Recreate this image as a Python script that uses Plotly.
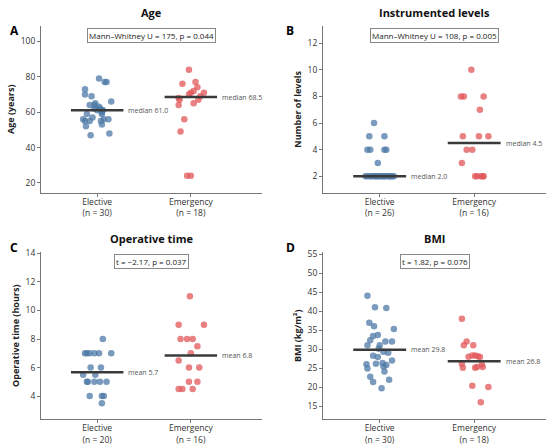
import numpy as np
import plotly.graph_objects as go
from plotly.subplots import make_subplots

groups = ['Elective', 'Emergency']

# A - age
age_elective = [79, 77, 77, 73, 70, 69, 66, 65, 64, 64, 63, 62, 62, 61, 61,
                61, 60, 59, 59, 57, 56, 56, 56, 55, 55, 55, 53, 52, 48, 47]
age_elective_jit = [0.02, 0.08, 0.10, -0.13, -0.13, -0.06, 0.15, -0.02, -0.03, -0.08, 0.02, -0.03, 0.03, 0.05, 0.0,
                    0.06, 0.05, -0.11, 0.05, -0.05, -0.15, 0.07, 0.12, -0.13, -0.08, 0.04, 0.05, -0.12, 0.13, -0.07]
age_emergency = [84, 76, 77, 74, 72, 71, 70, 71, 69, 68, 67, 67, 65, 64, 56, 49, 24, 24]
age_emergency_jit = [-0.02, -0.09, 0.05, 0.07, 0.03, 0.0, -0.02, 0.14, 0.10, -0.13, -0.12, 0.08, 0.03, -0.13, -0.07, -0.11, -0.04, 0.0]

# B - instrumented levels
lev_elective = [6, 5, 5, 4, 4, 4, 4, 3] + [2] * 18
lev_elective_jit = [-0.06, -0.11, 0.05, -0.13, -0.10, 0.05, 0.07, -0.02,
                    -0.15, -0.13, -0.10, -0.09, -0.06, -0.05, -0.03, -0.02, 0.0,
                    0.02, 0.03, 0.05, 0.06, 0.09, 0.10, 0.12, 0.13, 0.15]
lev_emergency = [10, 8, 8, 8, 7, 5, 5, 5, 4, 4, 3, 2, 2, 2, 2, 2]
lev_emergency_jit = [-0.03, -0.14, -0.11, 0.10, 0.06, -0.12, 0.05, 0.15, -0.08, -0.02, -0.13, 0.01, 0.03, 0.07, 0.09, 0.10]

# C - operative time
op_elective = [8, 7, 7, 7, 7, 7, 7, 6, 6, 5.5, 5.5, 5, 5, 5, 5, 5, 4, 4, 4, 3.5]
op_elective_jit = [0.06, -0.13, -0.11, -0.08, -0.03, 0.02, 0.15, -0.07, 0.04, -0.15,
                   -0.02, -0.11, -0.10, -0.03, 0.03, 0.10, -0.08, 0.05, 0.07, 0.05]
op_emergency = [11, 9, 9, 8, 8, 8, 7.5, 7, 6.5, 6, 6, 5, 5, 4.5, 4.5, 4.5]
op_emergency_jit = [-0.01, -0.13, 0.14, -0.11, -0.04, 0.02, 0.07, 0.0, -0.13, -0.02, 0.09, -0.02, 0.07, -0.13, -0.09, 0.02]

# D - BMI
bmi_elective = [44.0, 41.0, 40.8, 36.9, 36.0, 35.3, 33.4, 33.7, 32.3, 32.0, 32.0, 31.0, 31.0, 30.1, 29.3,
                29.0, 28.2, 27.9, 27.0, 26.1, 26.3, 26.0, 25.8, 25.4, 24.9, 24.1, 22.7, 21.9, 21.3, 19.7]
bmi_elective_jit = [-0.13, -0.05, 0.07, -0.11, -0.06, 0.15, -0.07, -0.02, -0.10, 0.06, 0.13, -0.13, 0.0, -0.01, 0.04,
                    0.09, -0.07, -0.02, 0.13, -0.04, 0.03, -0.14, 0.07, 0.04, -0.13, 0.05, -0.10, 0.10, -0.07, 0.02]
bmi_emergency = [38.0, 32.0, 31.0, 31.0, 28.0, 28.3, 28.3, 28.1, 27.9, 26.1, 25.9, 25.1, 25.1, 25.3, 25.3, 20.3, 20.0, 16.0]
bmi_emergency_jit = [-0.13, -0.08, -0.11, -0.01, -0.06, -0.02, 0.01, 0.04, 0.06, -0.13, 0.08, -0.12, 0.01, 0.03, 0.09, -0.02, 0.15, 0.07]

panels = [
    dict(letter='A', title='Age', ytitle='Age (years)', stat='median',
         test='Mann\u2013Whitney U = 175, p = 0.044',
         data=[(age_elective, age_elective_jit), (age_emergency, age_emergency_jit)],
         yrange=[14.4, 108.8], dtick=20),
    dict(letter='B', title='Instrumented levels', ytitle='Number of levels', stat='median',
         test='Mann\u2013Whitney U = 108, p = 0.005',
         data=[(lev_elective, lev_elective_jit), (lev_emergency, lev_emergency_jit)],
         yrange=[0.76, 13.3], dtick=2),
    dict(letter='C', title='Operative time', ytitle='Operative time (hours)', stat='mean',
         test='t = \u22122.17, p = 0.037',
         data=[(op_elective, op_elective_jit), (op_emergency, op_emergency_jit)],
         yrange=[2.37, 14.09], dtick=2),
    dict(letter='D', title='BMI', ytitle='BMI (kg/m\u00b2)', stat='mean',
         test='t = 1.82, p = 0.076',
         data=[(bmi_elective, bmi_elective_jit), (bmi_emergency, bmi_emergency_jit)],
         yrange=[11.5, 55.5], dtick=5),
]

colors = ['#4e79a7', '#e15759']
FONT = 'Open Sans'
W, H = 550, 445

# panel boxes in pixels (left, right, top, bottom)
boxes = [(41, 262, 21, 190), (323, 546, 21, 190), (41, 262, 250, 419), (323, 546, 250, 419)]

fig = make_subplots(rows=2, cols=2)

for k, p in enumerate(panels):
    r, c = k // 2 + 1, k % 2 + 1
    xa = 'x' if k == 0 else 'x%d' % (k + 1)
    ya = 'y' if k == 0 else 'y%d' % (k + 1)
    ticktext = []
    for g, (vals, jit) in enumerate(p['data']):
        vals = np.array(vals, dtype=float)
        xs = g + np.array(jit)
        fig.add_trace(go.Scatter(x=xs, y=vals, mode='markers',
                                 marker=dict(color=colors[g], size=6.5, opacity=0.75, line=dict(width=0)),
                                 showlegend=False, hoverinfo='skip'), row=r, col=c)
        cval = np.median(vals) if p['stat'] == 'median' else np.mean(vals)
        fig.add_trace(go.Scatter(x=[g - 0.28, g + 0.28], y=[cval, cval], mode='lines',
                                 line=dict(color='#3a3a3a', width=2.5),
                                 showlegend=False, hoverinfo='skip'), row=r, col=c)
        fig.add_annotation(x=g + 0.28, y=cval, xref=xa, yref=ya, text='%s %.1f' % (p['stat'], cval),
                           showarrow=False, xanchor='left', xshift=3,
                           font=dict(family=FONT, size=7, color='#555555'))
        ticktext.append('%s<br>(n = %d)' % (groups[g], len(vals)))

    l, rr, t, b = boxes[k]
    fig.update_xaxes(domain=[l / W, rr / W], range=[-0.6, 1.76], tickvals=[0, 1], ticktext=ticktext,
                     showgrid=False, zeroline=False, showline=True, linecolor='#777777', linewidth=1,
                     ticks='outside', ticklen=3, tickcolor='#777777', ticklabelstandoff=-2,
                     tickfont=dict(family=FONT, size=8.5, color='#333333'), row=r, col=c)
    fig.update_yaxes(domain=[1 - b / H, 1 - t / H], range=p['yrange'], dtick=p['dtick'],
                     showgrid=False, zeroline=False, showline=True, linecolor='#777777', linewidth=1,
                     ticks='outside', ticklen=3, tickcolor='#777777',
                     tickfont=dict(family=FONT, size=8.5, color='#333333'),
                     title=dict(text='<b>%s</b>' % p['ytitle'], standoff=4,
                                font=dict(family=FONT, size=9, color='#222222')), row=r, col=c)

    # subplot title
    fig.add_annotation(x=0.5, y=1, xref=xa + ' domain', yref=ya + ' domain', text='<b>%s</b>' % p['title'],
                       showarrow=False, yanchor='bottom', yshift=4,
                       font=dict(family=FONT, size=11, color='#111111'))
    # test box
    fig.add_annotation(x=0.5, y=1, xref=xa + ' domain', yref=ya + ' domain', text=p['test'],
                       showarrow=False, yanchor='top', yshift=-2,
                       bordercolor='#888888', borderwidth=1, borderpad=1, bgcolor='white',
                       font=dict(family=FONT, size=8, color='#222222'))
    # panel letter
    fig.add_annotation(x=(8 if c == 1 else 290) / W, y=1 - (15 if r == 1 else 245) / H,
                       xref='paper', yref='paper', text='<b>%s</b>' % p['letter'],
                       showarrow=False, font=dict(family=FONT, size=12, color='#000000'))

fig.update_layout(width=W, height=H, margin=dict(l=0, r=0, t=0, b=0),
                  plot_bgcolor='white', paper_bgcolor='white')

fig.write_html('out.html', config={'displayModeBar': False},
               post_script="document.body.style.margin='0';")
